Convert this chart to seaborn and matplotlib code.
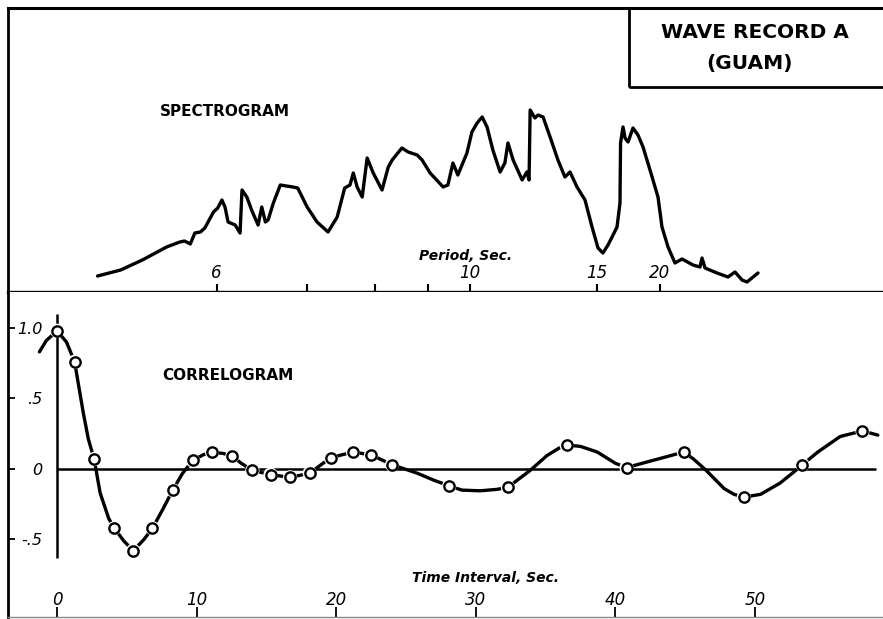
import numpy as np
import pandas as pd
import matplotlib
matplotlib.use("Agg")
import matplotlib.pyplot as plt
import seaborn as sns
from matplotlib.patches import Rectangle

# ---------------- data ----------------
# Spectrogram: period (sec) and relative energy (arbitrary units)
spec_period = [5.05, 5.21, 5.37, 5.56, 5.67, 5.71, 5.76, 5.80, 5.85, 5.89,
               5.97, 6.01, 6.05, 6.08, 6.11, 6.18, 6.23, 6.25, 6.30, 6.35,
               6.42, 6.46, 6.50, 6.53, 6.59, 6.67, 6.82, 6.88, 7.00, 7.13,
               7.28, 7.41, 7.52, 7.60, 7.65, 7.71, 7.79, 7.87, 7.97, 8.12,
               8.23, 8.30, 8.48, 8.60, 8.78, 8.88, 9.05, 9.34, 9.45, 9.57,
               9.69, 9.92, 10.05, 10.19, 10.33, 10.47, 10.64, 10.86, 11.01, 11.11,
               11.28, 11.59, 11.76, 11.84, 11.88, 12.06, 12.18, 12.38, 12.67, 13.01,
               13.33, 13.57, 13.92, 14.34, 14.73, 15.08, 15.38, 15.70, 15.97, 16.31,
               16.52, 16.56, 16.74, 16.89, 17.12, 17.51, 17.92, 18.36, 19.00, 19.79,
               20.21, 20.88, 21.71, 22.62, 24.20, 25.33, 25.68, 26.21, 28.57, 31.15,
               33.04, 35.19, 36.89, 41.30]
spec_amp = [16, 22, 32, 45, 50, 51, 48, 59, 60, 64,
            80, 84, 92, 85, 70, 67, 59, 102, 95, 82,
            67, 85, 70, 72, 89, 107, 105, 104, 85, 70,
            60, 75, 104, 107, 119, 105, 95, 134, 119, 102,
            125, 132, 144, 140, 137, 132, 119, 105, 107, 129,
            117, 139, 160, 169, 175, 165, 142, 120, 129, 149,
            132, 112, 120, 112, 182, 174, 177, 175, 155, 132,
            115, 120, 105, 92, 65, 44, 39, 47, 55, 65,
            89, 149, 165, 154, 150, 164, 157, 145, 122, 95,
            65, 45, 29, 33, 27, 25, 34, 24, 19, 15,
            20, 12, 10, 19]
period_ticks = [6, 7, 8, 9, 10, 15, 20]
period_tick_labels = ["6", "", "", "", "10", "15", "20"]

# Correlogram: computed lags (circles)
lag_t = [0, 1.26, 2.66, 4.1, 5.46, 6.84, 8.29, 9.73, 11.1, 12.56, 14.0, 15.3,
         16.7, 18.1, 19.6, 21.2, 22.5, 24.0, 28.1, 32.3, 36.5, 40.8, 44.9,
         49.2, 53.4, 57.7]
lag_r = [0.98, 0.76, 0.07, -0.42, -0.58, -0.42, -0.15, 0.06, 0.12, 0.09, -0.01,
         -0.04, -0.06, -0.03, 0.08, 0.12, 0.10, 0.03, -0.12, -0.13, 0.17, 0.01,
         0.12, -0.20, 0.03, 0.27]
# Correlogram: drawn curve
curve_t = [-1.26, -0.77, 0.0, 0.68, 1.26, 1.88, 2.25, 2.66, 3.09, 3.7,
           4.1, 4.78, 5.46, 6.23, 6.84, 7.56, 8.29, 9.0, 9.73, 10.46,
           11.1, 11.9, 12.56, 13.2, 14.0, 15.3, 16.7, 18.1, 19.6, 21.2,
           22.5, 24.0, 25.8, 27.0, 28.1, 29.0, 30.3, 31.5, 32.3, 33.9,
           35.1, 36.0, 36.5, 37.5, 38.7, 40.0, 40.8, 44.9, 45.6, 46.5,
           47.8, 48.5, 49.2, 50.4, 51.8, 52.8, 53.4, 54.5, 56.1, 57.7, 58.8]
curve_r = [0.83, 0.91, 0.98, 0.90, 0.76, 0.40, 0.21, 0.07, -0.17, -0.35,
           -0.42, -0.51, -0.58, -0.50, -0.42, -0.29, -0.15, -0.03, 0.06, 0.10,
           0.12, 0.11, 0.09, 0.04, -0.01, -0.04, -0.06, -0.03, 0.08, 0.12,
           0.10, 0.03, -0.03, -0.08, -0.12, -0.15, -0.155, -0.145, -0.13, -0.01,
           0.095, 0.15, 0.17, 0.16, 0.12, 0.04, 0.01, 0.12, 0.07, -0.01,
           -0.14, -0.18, -0.20, -0.18, -0.10, -0.02, 0.03, 0.12, 0.23, 0.27, 0.24]
lag_ticks = [0, 10, 20, 30, 40, 50]
r_ticks = [1.0, 0.5, 0.0, -0.5]
r_tick_labels = ["1.0", ".5", "0", "-.5"]

# ---------------- figure ----------------
sns.set_theme(style="white")
plt.rcParams['font.family'] = ['DejaVu Sans']
plt.rcParams['text.color'] = 'black'
plt.rcParams['xtick.color'] = 'black'
plt.rcParams['ytick.color'] = 'black'
plt.rcParams['axes.labelcolor'] = 'black'

W, H = 883, 619
fig = plt.figure(figsize=(W / 100, H / 100), dpi=100)
fig.patch.set_facecolor("white")


def rect(x0, y0, x1, y1):
    return [x0 / W, 1 - y1 / H, (x1 - x0) / W, (y1 - y0) / H]


ax1 = fig.add_axes(rect(8, 8, 883, 292))
ax2 = fig.add_axes(rect(8, 292, 883, 617))

# ---- spectrogram ----
spec_df = pd.DataFrame({"freq": 1.0 / np.array(spec_period), "amp": spec_amp})
sns.lineplot(data=spec_df, x="freq", y="amp", sort=False, estimator=None,
             color="black", linewidth=2.4, ax=ax1)
ax1.set_xlim(0.22158, -0.00868)
ax1.set_ylim(0, 284)
ax1.set_xticks([1.0 / p for p in period_ticks])
ax1.set_xticklabels(period_tick_labels)
ax1.set_yticks([])
ax1.set_xlabel("")
ax1.set_ylabel("")
ax1.tick_params(axis="x", direction="in", length=6, width=1.5, color="black",
                labelcolor="black", pad=-20, labelsize=12, bottom=True)
for lbl in ax1.get_xticklabels():
    lbl.set_fontstyle("italic")
ax1.spines["right"].set_visible(False)
for s in ["top", "left", "bottom"]:
    ax1.spines[s].set_color("black")
ax1.spines["top"].set_linewidth(2.2)
ax1.spines["left"].set_linewidth(2.0)
ax1.spines["bottom"].set_linewidth(2.4)
ax1.set_facecolor("white")


def axfrac1(px, py):
    return ((px - 8) / 875, (292 - py) / 284)


x, y = axfrac1(225, 112)
ax1.text(x, y, "SPECTROGRAM", transform=ax1.transAxes, ha="center", va="center",
         fontsize=11, fontweight="bold", color="black")
x, y = axfrac1(466, 256)
ax1.text(x, y, "Period, Sec.", transform=ax1.transAxes, ha="center", va="center",
         fontsize=10, fontstyle="italic", fontweight="bold", color="black")
x0, y0 = axfrac1(629, 87)
ax1.add_patch(Rectangle((x0, y0), 1.05 - x0, 1.0 - y0, transform=ax1.transAxes,
                        fill=False, edgecolor="black", linewidth=2.0, clip_on=False))
x, y = axfrac1(755, 33)
ax1.text(x, y, "WAVE RECORD A", transform=ax1.transAxes, ha="center", va="center",
         fontsize=14.5, fontweight="bold", color="black")
x, y = axfrac1(749, 63)
ax1.text(x, y, "(GUAM)", transform=ax1.transAxes, ha="center", va="center",
         fontsize=14.5, fontweight="bold", color="black")

# ---- correlogram ----
curve_df = pd.DataFrame({"t": curve_t, "r": curve_r})
lag_df = pd.DataFrame({"t": lag_t, "r": lag_r})
ax2.hlines(0, lag_t[0], 58.7, color="black", linewidth=1.8, zorder=1)
ax2.vlines(0, -0.63, 1.10, color="black", linewidth=1.8, zorder=1)
sns.lineplot(data=curve_df, x="t", y="r", sort=False, estimator=None,
             color="black", linewidth=2.4, ax=ax2, zorder=2)
sns.scatterplot(data=lag_df, x="t", y="r", s=105, color="white", edgecolor="none",
                linewidth=0, ax=ax2, zorder=3)
sns.scatterplot(data=lag_df, x="t", y="r", s=55, facecolor="white", edgecolor="black",
                linewidth=1.7, ax=ax2, zorder=4)
ax2.set_xlim(-3.51, 59.17)
ax2.set_ylim(-1.05, 1.255)
ax2.set_xticks(lag_ticks)
ax2.set_xticklabels([str(v) for v in lag_ticks])
ax2.set_yticks(r_ticks)
ax2.set_yticklabels(r_tick_labels)
ax2.set_xlabel("")
ax2.set_ylabel("")
ax2.tick_params(axis="x", direction="in", length=7, width=1.3, color="black",
                labelcolor="black", pad=-19, labelsize=12, bottom=True)
ax2.tick_params(axis="y", direction="in", length=5, width=1.3, color="black",
                labelcolor="black", pad=-25, labelsize=11.5, left=True)
for lbl in ax2.get_xticklabels() + ax2.get_yticklabels():
    lbl.set_fontstyle("italic")
ax2.spines["top"].set_visible(False)
ax2.spines["right"].set_visible(False)
ax2.spines["left"].set_color("black")
ax2.spines["left"].set_linewidth(2.0)
ax2.spines["bottom"].set_color("#888888")
ax2.spines["bottom"].set_linewidth(1.0)
ax2.set_facecolor("white")

ax2.text(12.25, 0.66, "CORRELOGRAM", ha="center", va="center",
         fontsize=11, fontweight="bold", color="black")
ax2.text(30.7, -0.77, "Time Interval, Sec.", ha="center", va="center",
         fontsize=10, fontstyle="italic", fontweight="bold", color="black")

fig.savefig("out.png", dpi=100, facecolor="white")
